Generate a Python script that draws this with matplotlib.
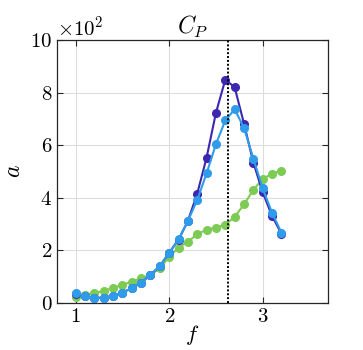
import numpy as np
import matplotlib.pyplot as plt

plt.rcParams['mathtext.fontset'] = 'cm'
plt.rcParams['font.family'] = ['cmr10', 'DejaVu Serif']
plt.rcParams['axes.formatter.use_mathtext'] = True

# Частоти (крок 0.1)
f = np.round(np.arange(1.0, 3.21, 0.1), 1)

# Значення a (у сотнях)
a_dark = [0.36, 0.27, 0.19, 0.21, 0.28, 0.40, 0.57, 0.78, 1.07, 1.41, 1.91, 2.41,
          3.12, 4.16, 5.53, 7.23, 8.49, 8.20, 6.82, 5.34, 4.21, 3.31, 2.64]
a_blue = [0.38, 0.28, 0.19, 0.21, 0.28, 0.40, 0.57, 0.78, 1.07, 1.41, 1.91, 2.42,
          3.12, 3.92, 4.93, 6.04, 6.94, 7.36, 6.66, 5.49, 4.36, 3.43, 2.68]
a_green = [0.25, 0.31, 0.38, 0.47, 0.57, 0.69, 0.82, 0.94, 1.07, 1.32, 1.76, 2.11,
           2.33, 2.62, 2.79, 2.87, 2.98, 3.28, 3.75, 4.30, 4.72, 4.91, 5.03]
f_mark = 2.63

fig = plt.figure(figsize=(3.63, 3.5), dpi=100)
ax = fig.add_axes([0.157, 0.134, 0.747, 0.752])

ax.plot(f, np.array(a_dark) * 100, '-o', color='#3d27b0', lw=1.5, ms=5.5, zorder=3)
ax.plot(f, np.array(a_blue) * 100, '-o', color='#2e9ceb', lw=1.5, ms=5.5, zorder=4)
ax.plot(f, np.array(a_green) * 100, '-o', color='#7dcb55', lw=1.5, ms=5.5, zorder=2)
ax.axvline(f_mark, color='k', ls=(0, (1, 1)), lw=1.4, zorder=5)

ax.set_xlim(0.8, 3.7)
ax.set_ylim(0, 1000)
ax.set_xticks([1, 2, 3])
ax.set_yticks([0, 200, 400, 600, 800, 1000])
ax.ticklabel_format(axis='y', style='sci', scilimits=(2, 2), useMathText=True)
ax.yaxis.get_offset_text().set_fontsize(15)

ax.grid(True, color='#dddddd', lw=0.8)
ax.set_axisbelow(True)
ax.tick_params(direction='in', top=True, right=True, labelsize=15, length=4,
               color='#262626')
for s in ax.spines.values():
    s.set_color('#262626')
    s.set_linewidth(0.9)

ax.set_title(r'$C_P$', fontsize=17, pad=4)
ax.set_xlabel(r'$f$', fontsize=16, labelpad=-2)
ax.set_ylabel(r'$a$', fontsize=17, labelpad=4)

fig.savefig('out.png', dpi=100)
